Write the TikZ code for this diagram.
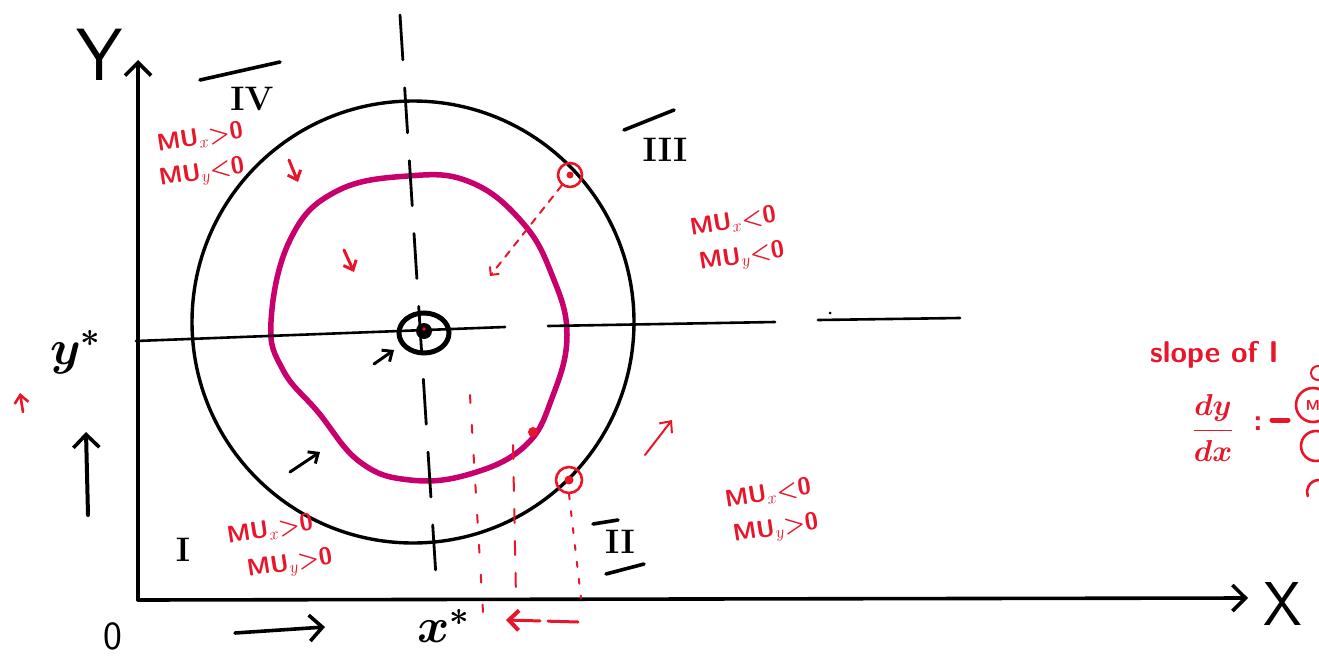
\documentclass[tikz,border=0pt]{standalone}
\usepackage{graphicx}
\usetikzlibrary{arrows.meta,shapes.geometric}
\definecolor{myred}{RGB}{232,22,42}
\definecolor{mymag}{RGB}{200,0,110}
\begin{document}
\begin{tikzpicture}[x=1pt,y=-1pt,
  blk/.style={line width=3.6pt,line cap=round,black},
  rd/.style={line width=2.4pt,line cap=round,myred},
  chev/.style={-{Straight Barb[length=13pt,width=26pt,line width=3.6pt]}},
  chevs/.style={-{Straight Barb[length=8pt,width=14pt]}},
  lab/.style={text=myred,font=\fontsize{24}{24}\selectfont\bfseries\sffamily,inner sep=0pt,rotate=9},
  roman/.style={font=\fontsize{34}{36}\selectfont\bfseries\rmfamily,inner sep=0pt},
  big/.style={font=\Large\boldmath,inner sep=0pt}]
\useasboundingbox (0,0) rectangle (1319,658);
\clip (0,0) rectangle (1319,658);
\fill[white] (0,0) rectangle (1319,658);

% axes
\coordinate (O) at (138,600);
\coordinate (Ytop) at (138,60);
\coordinate (Xend) at (1248,598);
\draw[blk,chev] (O) -- (Ytop);
\draw[blk,chev] (O) -- (Xend);
\node[font=\fontsize{74}{74}\selectfont\sffamily,inner sep=0pt] (Ylab) at (100,55) {Y};
\node[font=\fontsize{62}{62}\selectfont\sffamily,inner sep=0pt] (Xlab) at (1283,604) {X};
\node[font=\fontsize{40}{40}\selectfont\sffamily,inner sep=0pt] (zero) at (113,636) {0};
\node[big] (xs) at (444,626) {\scalebox{3.4}{$x^{*}$}};
\node[big] (ys) at (76,352) {\scalebox{3.4}{$y^{*}$}};

% big circle
\node[circle,draw,line width=3.4pt,minimum size=442pt,inner sep=0pt] (C) at (413,322) {};

% magenta curve
\draw[mymag,line width=5.5pt] plot[smooth cycle,tension=0.7] coordinates {
 (271,322) (290,240) (335,192) (408,176) (470,182) (522,222) (552,275)
 (567,335) (552,398) (525,446) (470,474) (410,480) (360,462) (318,412) (283,370)};

% dashed cross lines
\draw[blk,line width=2.6pt] (136,341) -- (505,327);
\draw[blk,line width=2.6pt] (548,326) -- (775,322);
\draw[blk,line width=2.6pt] (818,320) -- (960,318);
\fill (830,313) circle (1.5pt);
\draw[blk,line width=2.8pt,dash pattern=on 45pt off 28pt] (400,15) -- (437,592);

% equilibrium
\node[ellipse,draw,line width=5pt,minimum width=50pt,minimum height=40pt,inner sep=0pt] (E) at (424,333) {};
\node[circle,fill=black,minimum size=16pt,inner sep=0pt] (Ec) at (424,331) {};
\fill[myred] (Ec.center)++(0,-2) circle (1.8pt);

% roman numerals
\node[roman] (R4) at (252,99) {IV};
\draw[blk] (200,80) -- (280,62);
\node[roman] (R3) at (665,150) {III};
\draw[blk] (624,130) -- (674,110);
\node[roman] (R2) at (620,542) {II};
\draw[blk] (593,524) -- (618,520);
\draw[blk] (606,574) -- (644,564);
\node[roman] (R1) at (183,550) {I};

% region labels
\node[lab] (L4a) at (200,138) {MU$_x$>0};
\node[lab] (L4b) at (202,174) {MU$_y$<0};
\node[lab] (L3a) at (733,222) {MU$_x$<0};
\node[lab] (L3b) at (742,258) {MU$_y$<0};
\node[lab] (L2a) at (768,494) {MU$_x$<0};
\node[lab] (L2b) at (776,530) {MU$_y$>0};
\node[lab] (L1a) at (270,530) {MU$_x$>0};
\node[lab] (L1b) at (290,565) {MU$_y$>0};

% direction arrows inside
\coordinate (a1s) at (289,160); \coordinate (a1e) at (298,182);
\draw[rd,line width=3pt,chevs] (a1s) -- (a1e);
\coordinate (a2s) at (344,250); \coordinate (a2e) at (354,272);
\draw[rd,line width=3pt,chevs] (a2s) -- (a2e);
\coordinate (b1s) at (374,364); \coordinate (b1e) at (394,350);
\draw[blk,line width=3pt,chevs] (b1s) -- (b1e);
\coordinate (b2s) at (290,472); \coordinate (b2e) at (320,452);
\draw[blk,line width=3pt,chevs] (b2s) -- (b2e);
\coordinate (r3s) at (645,455); \coordinate (r3e) at (672,420);
\draw[rd,line width=2pt,-{Straight Barb[length=9pt,width=16pt]}] (r3s) -- (r3e);

% outside arrows
\coordinate (ba1) at (235,633); \coordinate (ba2) at (325,627);
\draw[blk,line width=3.6pt,chev] (ba1) -- (ba2);
\coordinate (la1) at (88,515); \coordinate (la2) at (86,432);
\draw[blk,line width=4pt,chev] (la1) -- (la2);
\coordinate (sm1) at (23,412); \coordinate (sm2) at (20,393);
\draw[rd,line width=2.6pt,chevs] (sm1) -- (sm2);

% red circles on the big circle
\node[circle,draw=myred,line width=2.6pt,minimum size=24pt,inner sep=0pt] (P1) at (570,175) {};
\fill[myred] (P1.center) circle (3.5pt);
\node[circle,draw=myred,line width=2.6pt,minimum size=26pt,inner sep=0pt] (P2) at (569,480) {};
\fill[myred] (P2.center) circle (4.5pt);
\coordinate (pt1) at (490,276);
\draw[rd,line width=2pt,dash pattern=on 7pt off 7pt,-{Straight Barb[length=6pt,width=12pt]}] (P1) -- (pt1);
\fill[myred] (533,432) circle (5pt);

% red dotted verticals
\draw[rd,line width=2pt,dash pattern=on 8pt off 22pt] (470,395) -- (483,612);
\draw[rd,line width=2pt,dash pattern=on 14pt off 18pt] (513,445) -- (516,598);
\draw[rd,line width=2pt,dash pattern=on 5pt off 12pt] (P2.south) -- (581,598);

% red arrow on x axis
\coordinate (ra1) at (578,622); \coordinate (ra2) at (506,620);
\draw[rd,line width=3pt,dash pattern=on 30pt off 8pt,-{Straight Barb[length=10pt,width=20pt,line width=4pt]}] (ra1) -- (ra2);

% right edge text
\node[text=myred,font=\fontsize{30}{32}\selectfont\bfseries\sffamily,inner sep=0pt,anchor=west] (sl) at (1150,355) {slope of I};
\node[text=myred,font=\Large\boldmath,inner sep=0pt] (dydx) at (1213,428) {\scalebox{2.1}{$\displaystyle\frac{dy}{dx}$}};
\node[text=myred,font=\fontsize{30}{32}\selectfont\bfseries\sffamily,inner sep=0pt] (col) at (1258,424) {:};
\draw[rd,line width=5pt] (1272,420) -- (1288,420);
\node[circle,draw=myred,line width=2.6pt,minimum size=34pt,inner sep=0pt,text=myred,font=\bfseries\sffamily\Large] (M1) at (1313,405) {M};
\node[circle,draw=myred,line width=2.6pt,minimum size=30pt,inner sep=0pt] (M2) at (1316,446) {};
\node[circle,draw=myred,line width=2pt,minimum size=14pt,inner sep=0pt] (M0) at (1318,373) {};
\draw[rd,line width=2.6pt] (1319,480) arc[start angle=90,end angle=200,radius=12pt];
\end{tikzpicture}
\end{document}
